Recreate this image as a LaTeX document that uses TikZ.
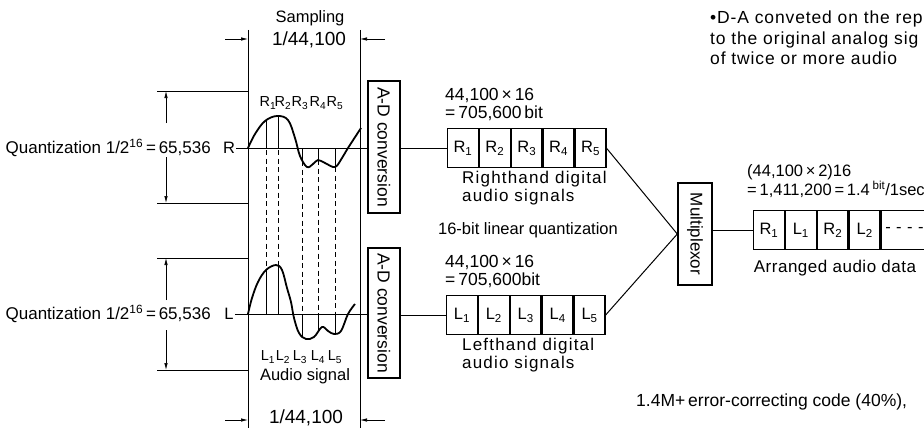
\documentclass[tikz,border=0pt]{standalone}
\usepackage{fontspec}
\setmainfont{Liberation Sans}
\usetikzlibrary{positioning,arrows.meta}

\begin{document}
\begin{tikzpicture}[
    x=1pt, y=-1pt,
    every node/.style={font=\fontsize{16.5}{19}\selectfont, inner sep=1pt},
    big/.style={font=\fontsize{19}{22}\selectfont},
    wide/.style={font=\fontsize{17}{17.5}\selectfont\addfontfeature{LetterSpace=#1}},
    sub/.style={font=\fontsize{14.5}{17}\selectfont, inner sep=0pt},
    box/.style={draw, line width=1.4pt, align=center, inner sep=0pt},
    cell/.style={draw, line width=1.3pt, minimum width=30.6pt, minimum height=39pt, inner sep=0pt},
    conn/.style={line width=1pt},
    wave/.style={line width=1.8pt, line join=round},
    sample/.style={line width=0.6pt},
    guide/.style={line width=0.6pt, dash pattern=on 5pt off 3.5pt},
    dim/.style={-{Latex[length=7pt,width=3.5pt]}, line width=0.7pt}
]
\useasboundingbox (0,0) rectangle (924,428);

% Sampling interval
\node (samp) at (310,18) {Sampling};
\node[big] (tper) at (309,40) {1/44,100};
\node[big] (bper) at (306,418) {1/44,100};
\draw[sample] (248,30) -- (248,428);
\draw[sample] (360,30) -- (360,428);
\draw[dim] (225,39) -- (248,39);
\draw[dim] (385,39) -- (360,39);
\draw[dim] (225,420) -- (248,420);
\draw[dim] (385,420) -- (360,420);

% Quantization range, right channel
\node[anchor=east, font=\fontsize{17}{19}\selectfont] (rquant) at (212,148) {Quantization 1/2\textsuperscript{16}\,=\,65,536};
\node (rlab) at (229,148) {R};
\draw[sample] (157,91) -- (248,91);
\draw[sample] (157,203) -- (248,203);
\draw[dim] (166,123) -- (166,91);
\draw[dim] (166,157) -- (166,203);

% Quantization range, left channel
\node[anchor=east, font=\fontsize{17}{19}\selectfont] (lquant) at (212,314) {Quantization 1/2\textsuperscript{16}\,=\,65,536};
\node (llab) at (229,314) {L};
\draw[sample] (157,258) -- (248,258);
\draw[sample] (157,370) -- (248,370);
\draw[dim] (166,300) -- (166,258);
\draw[dim] (166,330) -- (166,370);

% A-D converters
\node[box, rotate=-90, minimum width=132pt, minimum height=32pt, font=\fontsize{17.5}{20}\selectfont] (adr) at (384,147) {A-D conversion};
\node[box, rotate=-90, minimum width=130pt, minimum height=32pt, font=\fontsize{17.5}{20}\selectfont] (adl) at (384,313) {A-D conversion};
\draw[conn] (rlab.east) -- (rlab.east -| adr.south);
\draw[conn] (llab.east) -- (llab.east -| adl.south);

% Analog waveforms
\draw[wave] plot[smooth, tension=0.6] coordinates {(248,148) (255,134) (265,121) (277,116) (288,120) (295,138) (300,156) (307,167) (313,164) (318,160) (325,163) (335,167) (342,158) (348,148) (361,128)};
\draw[wave] plot[smooth, tension=0.6] coordinates {(248,314) (252,298) (258,282) (266,270) (276,265) (282,270) (287,288) (291,302) (294,318) (299,333) (306,339) (314,337) (322,327) (328,331) (334,334) (341,331) (348,314) (355,304)};

% Sample points
\foreach \x/\y in {266/121, 278/116, 302/161, 318/160, 335/167}
    \draw[sample] (\x,148) -- (\x,\y);
\foreach \x/\y in {266/271, 278/265, 302/338, 318/330, 335/334}
    \draw[sample] (\x,314) -- (\x,\y);
\foreach \x/\a/\b in {266/150/271, 278/150/265, 302/161/314, 318/160/314, 335/167/314}
    \draw[guide] (\x,\a) -- (\x,\b);
\foreach \x/\i in {268/1, 283/2, 300/3, 318/4, 335/5} {
    \node[sub] (rs\i) at (\x,103) {R\textsubscript{\i}};
    \node[sub] (ls\i) at (\x,357) {L\textsubscript{\i}};
}
\node (audio) at (305,376) {Audio signal};

% Righthand digital data
\node[cell, anchor=north west] (r1) at (447,128) {R\textsubscript{1}};
\foreach \i [count=\j from 1] in {2,...,5}
    \node[cell, right=0pt of r\j] (r\i) {R\textsubscript{\i}};
\node[anchor=south west, align=left, font=\fontsize{17.5}{18.5}\selectfont] (rbits) at (444,122) {44,100\,×\,16\\=\,705,600\,bit};
\node[anchor=north west, align=left, wide=7] (rname) at (461,170) {Righthand digital\\audio signals};
\draw[conn] (r1.west -| adr.north) -- (r1.west);

\node (lin) at (528,230) {16-bit linear quantization};

% Lefthand digital data
\node[cell, anchor=north west] (l1) at (446,295) {L\textsubscript{1}};
\foreach \i [count=\j from 1] in {2,...,5}
    \node[cell, right=0pt of l\j] (l\i) {L\textsubscript{\i}};
\node[anchor=south west, align=left, font=\fontsize{17.5}{18.5}\selectfont] (lbits) at (444,289) {44,100\,×\,16\\=\,705,600bit};
\node[anchor=north west, align=left, wide=7] (lname) at (461,337) {Lefthand digital\\audio signals};
\draw[conn] (l1.west -| adl.north) -- (l1.west);

% Multiplexing
\node[box, rotate=-90, minimum width=102pt, minimum height=34pt, font=\fontsize{17}{20}\selectfont] (mux) at (695,234) {Multiplexor};
\draw[conn] (r5.east) -- (mux.south) -- (l5.east);

\node[cell, anchor=north west] (a1) at (753,210) {R\textsubscript{1}};
\node[cell, right=0pt of a1] (a2) {L\textsubscript{1}};
\node[cell, right=0pt of a2] (a3) {R\textsubscript{2}};
\node[cell, right=0pt of a3] (a4) {L\textsubscript{2}};
\node[cell, right=0pt of a4, text width=62pt, inner xsep=4pt, align=left] (a5) {- - - -};
\draw[conn] (mux.north |- a1.west) -- (a1.west);
\node[anchor=south west, align=left, font=\fontsize{16.5}{18}\selectfont] (abits) at (746,199) {(44,100\,×\,2)16\\=\,1,411,200\,=\,1.4\,\textsuperscript{bit}/1sec};
\node[wide=3] (aname) at (835,268) {Arranged audio data};

% Notes
\node[anchor=north west, align=left, font=\fontsize{17.5}{20.5}\selectfont\addfontfeature{LetterSpace=5}] (note) at (709,10) {•D-A conveted on the rep\\to the original analog sig\\of twice or more audio};
\node[anchor=west, font=\fontsize{17.5}{20}\selectfont] (ecc) at (635,402) {1.4M+\,error-correcting code (40\%),};
\end{tikzpicture}
\end{document}
